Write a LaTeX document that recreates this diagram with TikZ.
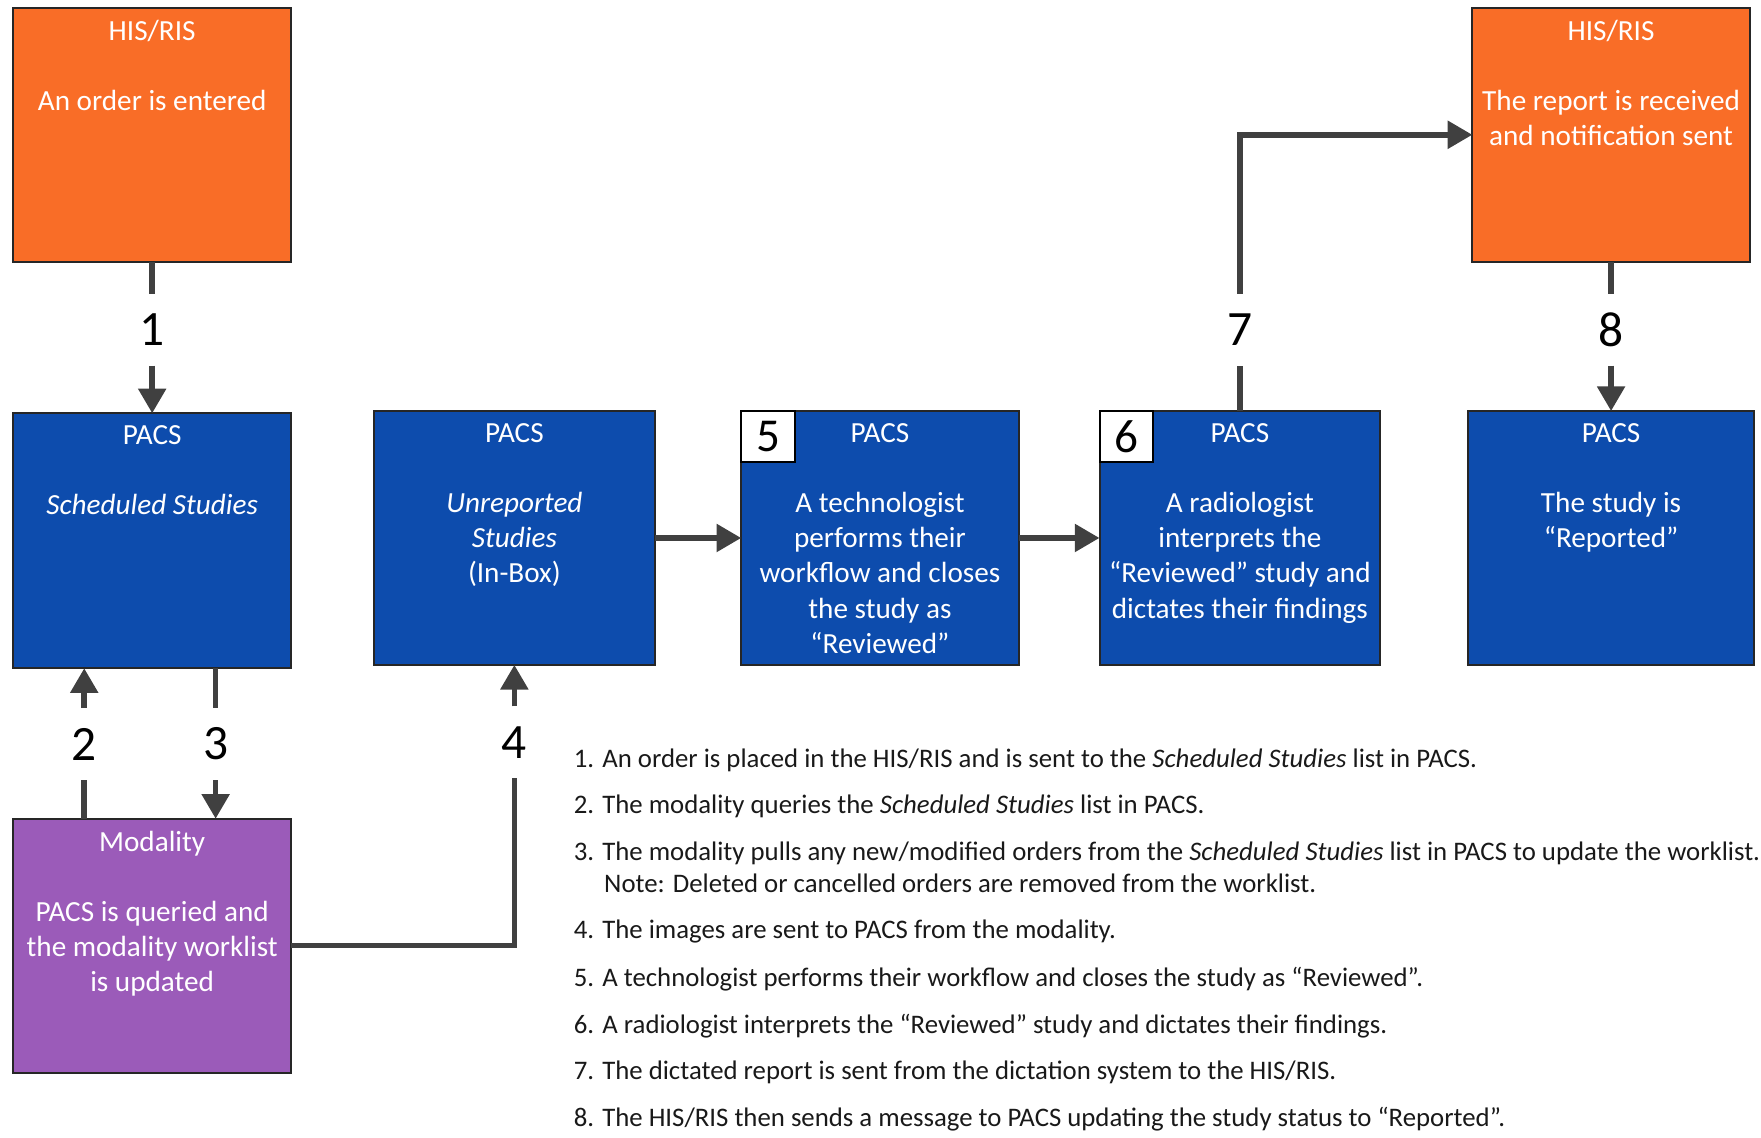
\documentclass[tikz,border=0pt]{standalone}
\usepackage{fontspec}
\setmainfont{Carlito}
\usetikzlibrary{arrows.meta}
\definecolor{orng}{HTML}{F96D27}
\definecolor{blu}{HTML}{0D4CAD}
\definecolor{purp}{HTML}{9B5BB9}
\definecolor{conncol}{HTML}{404040}
\begin{document}
\begin{tikzpicture}[x=1pt,y=-1pt,
  box/.style={draw=black!85, line width=1.8pt, inner sep=0, outer sep=0, anchor=north west},
  boxtxt/.style={text=white, align=center, anchor=north, inner sep=0, outer sep=0, font=\fontsize{26}{31.3}\selectfont},
  numlab/.style={font=\fontsize{44}{44}\selectfont, inner sep=0, outer sep=0, minimum height=64pt, minimum width=30pt, text=black},
  numbox/.style={draw=black, fill=white, line width=1.8pt, inner sep=0, outer sep=0, minimum width=48pt, minimum height=45pt, anchor=north west, font=\fontsize{42}{42}\selectfont},
  conn/.style={draw=conncol, line width=5pt},
  arr/.style={conn, -{Triangle[length=22pt,width=24pt]}},
  item/.style={anchor=base west, inner sep=0, outer sep=0, text=black!90, font=\fontsize{23.85}{23.85}\selectfont}]
\useasboundingbox (0,0) rectangle (1568,1013);

% boxes
\node[box, fill=orng, minimum width=247pt, minimum height=226pt] (his1) at (12,7) {};
\node[box, fill=orng, minimum width=247pt, minimum height=226pt] (his2) at (1311,7) {};
\node[box, fill=blu, minimum width=247pt, minimum height=227pt] (sched) at (12,368) {};
\node[box, fill=blu, minimum width=250pt, minimum height=226pt] (unrep) at (333,366) {};
\node[box, fill=blu, minimum width=247pt, minimum height=226pt] (tech) at (660,366) {};
\node[box, fill=blu, minimum width=250pt, minimum height=226pt] (rad) at (979,366) {};
\node[box, fill=blu, minimum width=255pt, minimum height=226pt] (rep) at (1307,366) {};
\node[box, fill=purp, minimum width=247pt, minimum height=226pt] (mod) at (12,729) {};

% box texts
\node[boxtxt] (his1t) at ([yshift=-11pt]his1.north) {HIS/RIS\\[31.3pt]An order is entered};
\node[boxtxt] (his2t) at ([yshift=-11pt]his2.north) {HIS/RIS\\[31.3pt]The report is received\\and notification sent};
\node[boxtxt] (schedt) at ([yshift=-11pt]sched.north) {PACS\\[31.3pt]\textit{Scheduled Studies}};
\node[boxtxt] (unrept) at ([yshift=-11pt]unrep.north) {PACS\\[31.3pt]\textit{Unreported}\\\textit{Studies}\\(In-Box)};
\node[boxtxt] (techt) at ([yshift=-11pt]tech.north) {PACS\\[31.3pt]A technologist\\performs their\\workflow and closes\\the study as\\“Reviewed”};
\node[boxtxt] (radt) at ([yshift=-11pt]rad.north) {PACS\\[31.3pt]A radiologist\\interprets the\\“Reviewed” study and\\dictates their findings};
\node[boxtxt] (rept) at ([yshift=-11pt]rep.north) {PACS\\[31.3pt]The study is\\“Reported”};
\node[boxtxt] (modt) at ([yshift=-11pt]mod.north) {Modality\\[31.3pt]PACS is queried and\\the modality worklist\\is updated};

% step number boxes
\node[numbox] (n5) at (660,366) {5};
\node[numbox] (n6) at (979,366) {6};

% connector labels
\node[numlab] (l1) at (135.5,293.5) {1};
\node[numlab] (l2) at (75,662.5) {2};
\node[numlab] (l3) at (192,662.5) {3};
\node[numlab] (l4) at (458,661) {4};
\node[numlab] (l7) at (1104,293.5) {7};
\node[numlab] (l8) at (1434.5,293.5) {8};

% connectors
\draw[conn] (his1.south) -- (l1.north);
\draw[arr] (l1.south) -- (sched.north);
\draw[conn] (l2 |- mod.north) -- (l2.south);
\draw[arr] (l2.north) -- (l2 |- sched.south);
\draw[conn] (l3 |- sched.south) -- (l3.north);
\draw[arr] (l3.south) -- (l3 |- mod.north);
\draw[conn] (mod.east) -| (l4.south);
\draw[arr] (l4.north) -- (unrep.south);
\draw[arr] (unrep.east) -- (tech.west);
\draw[arr] (tech.east) -- (rad.west);
\draw[conn] (rad.north) -- (l7.south);
\draw[arr] (l7.north) |- (his2.west);
\draw[conn] (his2.south) -- (l8.north);
\draw[arr] (l8.south) -- (rep.north);

% legend
\node[item] (i1) at (511,683) {1. An order is placed in the HIS/RIS and is sent to the \textit{Scheduled Studies} list in PACS.};
\node[item] (i2) at (511,724) {2. The modality queries the \textit{Scheduled Studies} list in PACS.};
\node[item] (i3) at (511,766) {3. The modality pulls any new/modified orders from the \textit{Scheduled Studies} list in PACS to update the worklist.};
\node[item] (i3b) at (538,795) {Note: Deleted or cancelled orders are removed from the worklist.};
\node[item] (i4) at (511,836) {4. The images are sent to PACS from the modality.};
\node[item] (i5) at (511,878) {5. A technologist performs their workflow and closes the study as “Reviewed”.};
\node[item] (i6) at (511,920) {6. A radiologist interprets the “Reviewed” study and dictates their findings.};
\node[item] (i7) at (511,961) {7. The dictated report is sent from the dictation system to the HIS/RIS.};
\node[item] (i8) at (511,1003) {8. The HIS/RIS then sends a message to PACS updating the study status to “Reported”.};
\end{tikzpicture}
\end{document}
